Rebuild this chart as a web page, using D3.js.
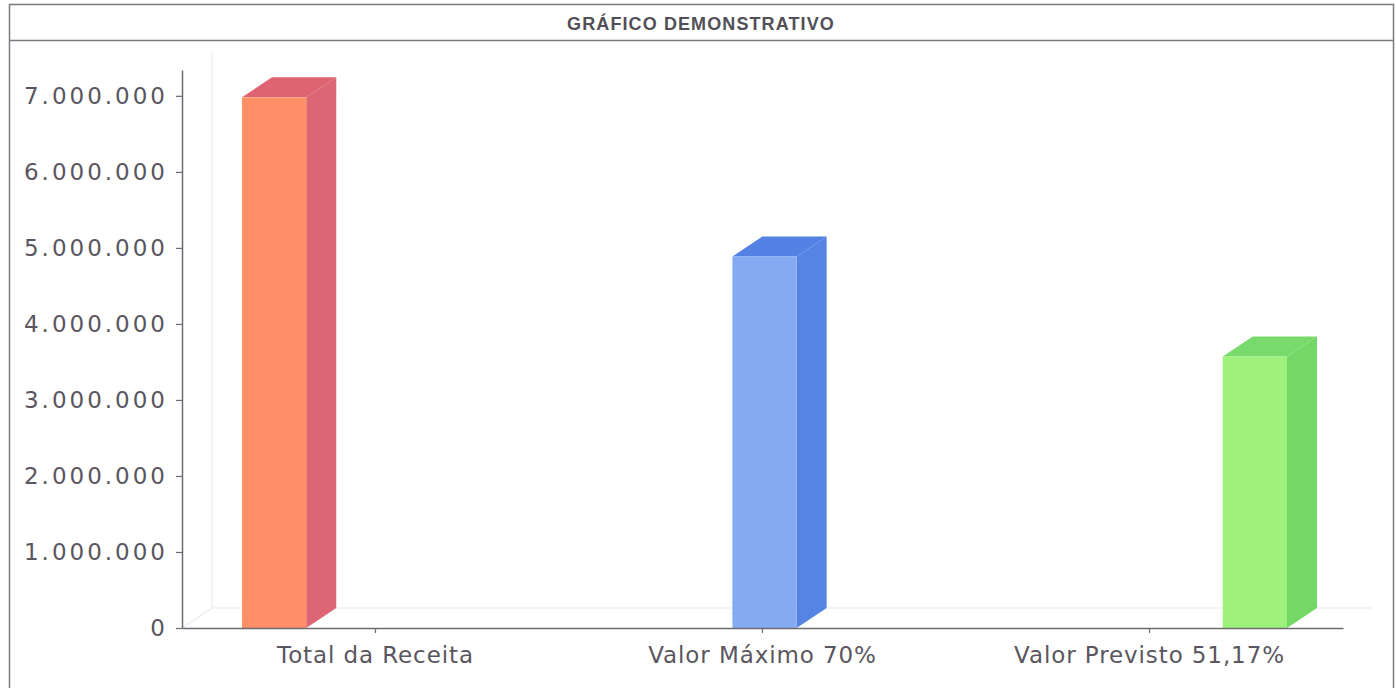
<!DOCTYPE html>
<html>
<head>
<meta charset="utf-8">
<script src="https://cdn.jsdelivr.net/npm/d3@7"></script>
<style>
    body { margin: 0; background: #fff; }
    svg { display: block; }
</style>
</head>
<body>
<svg id="chart"></svg>
<script>
const title = "GRÁFICO DEMONSTRATIVO";
const categories = ["Total da Receita", "Valor Máximo 70%", "Valor Previsto 51,17%"];
const values = [6980000, 4886000, 3571700];
const tickValues = [0, 1000000, 2000000, 3000000, 4000000, 5000000, 6000000, 7000000];
const frontColors = ["#ff8f66", "#84aaf2", "#9ef27c"];
const sideColors = ["#dc6673", "#5684e4", "#74d866"];
const topColors = ["#de6472", "#5282e4", "#78da6a"];

class Bar3D {
    constructor(width, height) {
        this.width = width;
        this.height = height;
        this.svg = d3.select("#chart")
            .attr("width", width)
            .attr("height", height);
        // depth of the 3d effect
        this.dx = 30;
        this.dy = -20;

        this.initScales();
        this.plotFrame();
        this.plotWalls();
        this.plotAxes();
        this.plotBars();
    }

    initScales() {
        this.x0 = 182;
        this.x1 = 1343;
        this.y0 = 628;
        this.y1 = 70;

        this.y = d3.scaleLinear()
            .domain([0, 7340000])
            .range([this.y0, this.y1]);

        // category labels sit in even bands along the axis
        this.xLabel = d3.scaleBand()
            .domain(categories)
            .range([this.x0, this.x1]);

        // bars are laid out on their own band scale
        this.xBar = d3.scaleBand()
            .domain(categories)
            .range([242, 1287])
            .paddingInner(0.869)
            .paddingOuter(0)
            .align(0);
    }

    plotFrame() {
        const g = this.svg.append("g").attr("class", "frame");
        g.append("rect")
            .attr("x", 9.5).attr("y", 4.5)
            .attr("width", 1384).attr("height", 700)
            .attr("fill", "none")
            .attr("stroke", "#7a7a80")
            .attr("stroke-width", 1.5);
        g.append("line")
            .attr("x1", 9.5).attr("x2", 1393.5)
            .attr("y1", 40.5).attr("y2", 40.5)
            .attr("stroke", "#7a7a80")
            .attr("stroke-width", 1.5);
        g.append("text")
            .attr("x", 701)
            .attr("y", 24)
            .attr("dy", "0.35em")
            .attr("text-anchor", "middle")
            .attr("font-family", "Liberation Sans, Arial, sans-serif")
            .attr("font-weight", "bold")
            .attr("font-size", 18)
            .attr("letter-spacing", 1.1)
            .attr("fill", "#524f58")
            .text(title);
    }

    plotWalls() {
        const g = this.svg.append("g").attr("class", "walls")
            .attr("stroke", "#e6eaf0")
            .attr("stroke-width", 1.2)
            .attr("fill", "none");
        const dx = this.dx, dy = this.dy;
        g.append("line")
            .attr("x1", this.x0 + dx).attr("x2", this.x0 + dx)
            .attr("y1", this.y1 + dy + 3).attr("y2", this.y0 + dy);
        g.append("line")
            .attr("x1", this.x0 + dx).attr("x2", this.x1 + dx)
            .attr("y1", this.y0 + dy).attr("y2", this.y0 + dy);
        g.append("line")
            .attr("x1", this.x0).attr("x2", this.x0 + dx)
            .attr("y1", this.y0).attr("y2", this.y0 + dy);
    }

    plotAxes() {
        const fmt = d3.formatLocale({ decimal: ",", thousands: ".", grouping: [3], currency: ["", ""] }).format(",d");

        const yAxis = this.svg.append("g")
            .attr("class", "y-axis")
            .attr("transform", `translate(${this.x0},0)`)
            .call(d3.axisLeft(this.y).tickValues(tickValues).tickFormat(fmt)
                .tickSize(6).tickSizeOuter(0).tickPadding(8));
        yAxis.select(".domain").attr("stroke", "#6e6a72").attr("stroke-width", 1.5);
        yAxis.selectAll(".tick line").attr("stroke", "#6e6a72").attr("stroke-width", 1.2);
        yAxis.selectAll("text")
            .attr("font-family", "DejaVu Sans, sans-serif")
            .attr("font-size", 23)
            .attr("letter-spacing", 3)
            .attr("fill", "#5a5660");

        const xAxis = this.svg.append("g")
            .attr("class", "x-axis")
            .attr("transform", `translate(0,${this.y0})`)
            .call(d3.axisBottom(this.xLabel).tickSize(5).tickSizeOuter(0).tickPadding(14));
        xAxis.select(".domain").attr("stroke", "#6e6a72").attr("stroke-width", 1.5);
        xAxis.selectAll(".tick line").attr("stroke", "#6e6a72").attr("stroke-width", 1.2);
        xAxis.selectAll("text")
            .attr("font-family", "DejaVu Sans, sans-serif")
            .attr("font-size", 23)
            .attr("letter-spacing", 0.9)
            .attr("fill", "#5a5660");
    }

    plotBars() {
        const dx = this.dx, dy = this.dy;
        const w = this.xBar.bandwidth();
        const data = categories.map((c, i) => ({ c, v: values[i], i }));
        const bars = this.svg.append("g")
            .attr("class", "bars")
            .selectAll("g")
            .data(data)
            .join("g");

        // side face
        bars.append("path")
            .attr("fill", d => sideColors[d.i])
            .attr("d", d => {
                const x = this.xBar(d.c) + w, top = this.y(d.v), bot = this.y(0);
                return `M${x},${bot}L${x},${top}L${x + dx},${top + dy}L${x + dx},${bot + dy}Z`;
            });

        // top face
        bars.append("path")
            .attr("fill", d => topColors[d.i])
            .attr("d", d => {
                const x = this.xBar(d.c), top = this.y(d.v);
                return `M${x},${top}L${x + dx},${top + dy}L${x + w + dx},${top + dy}L${x + w},${top}Z`;
            });

        // front face
        bars.append("rect")
            .attr("fill", d => frontColors[d.i])
            .attr("x", d => this.xBar(d.c))
            .attr("y", d => this.y(d.v))
            .attr("width", w)
            .attr("height", d => this.y(0) - this.y(d.v));

        // redraw the axis line over the bar bottoms
        this.svg.select(".x-axis").raise();
    }
}

new Bar3D(1396, 688);
</script>
</body>
</html>
